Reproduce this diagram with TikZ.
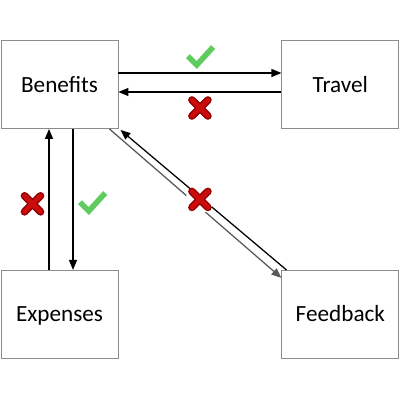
\documentclass[tikz,border=0pt]{standalone}
\usepackage{fontspec}
\setmainfont{Carlito}
\usetikzlibrary{positioning,calc,arrows.meta}
\definecolor{okgreen}{RGB}{96,204,96}
\definecolor{nored}{RGB}{204,12,12}
\definecolor{nodark}{RGB}{140,0,0}

\begin{document}
\begin{tikzpicture}[block/.style={draw=gray!90, line width=0.6pt, minimum width=2.925cm, minimum height=2.2cm, text height=14pt, text depth=3.3pt, font=\fontsize{16.5}{20}\selectfont},
  link/.style={-{Triangle[length=2.5mm,width=2mm]}, line width=0.9pt},
  tick/.pic={\draw[okgreen, line width=0.14cm, line join=miter] (-0.3,0.02) -- (-0.08,-0.2) -- (0.33,0.25);},
  cross/.pic={
    \draw[nodark, line width=0.19cm, line cap=round] (-0.2,-0.2) -- (0.2,0.2) (-0.2,0.2) -- (0.2,-0.2);
    \draw[nored, line width=0.12cm, line cap=round] (-0.2,-0.2) -- (0.2,0.2) (-0.2,0.2) -- (0.2,-0.2);}]

  \useasboundingbox (0,0) rectangle (10,10);

  % First row
  \node[block] (Benefits) at (1.4875,7.8875) {Benefits};
  \node[block, right=4.075cm of Benefits] (Travel) {Travel};

  % Second row
  \node[block, below=3.525cm of Benefits.south, anchor=north] (Expenses) {Expenses};
  \node[block, below=3.525cm of Travel.south, anchor=north] (Feedback) {Feedback};

  % Horizontal arrows
  \draw[link] ([yshift=0.2875cm]Benefits.east) -- ([yshift=0.2875cm]Travel.west);
  \draw[link] ([yshift=-0.1875cm]Travel.west) -- ([yshift=-0.1875cm]Benefits.east);

  % Vertical arrows
  \draw[link] ([xshift=-0.2625cm]Expenses.north) -- ([xshift=-0.2625cm]Benefits.south);
  \draw[link] ([xshift=0.3375cm]Benefits.south) -- ([xshift=0.3375cm]Expenses.north);

  % Diagonal arrows
  \draw[link] ([xshift=0.125cm]Feedback.north west) -- ([shift={(0.05cm,-0.025cm)}]Benefits.south east);
  \draw[link, gray!70!black] ([xshift=-0.225cm]Benefits.south east) -- ([yshift=-0.2cm]Feedback.north west);

  % Marks
  \coordinate (M1) at ($(Benefits.east)!0.5!(Travel.west)$);
  \coordinate (M2) at ($(Benefits.south)!0.5!(Expenses.north)$);
  \coordinate (M3) at ($(Benefits.south east)!0.5!(Feedback.north west)$);
  \pic at ([yshift=0.6875cm]M1) {tick};
  \pic at ([yshift=-0.5875cm]M1) {cross};
  \pic at ([shift={(-0.675cm,-0.11cm)}]M2) {cross};
  \pic at ([shift={(0.8125cm,-0.09cm)}]M2) {tick};
  \fill[white] (M3) circle (0.35);
  \pic at (M3) {cross};

\end{tikzpicture}
\end{document}
